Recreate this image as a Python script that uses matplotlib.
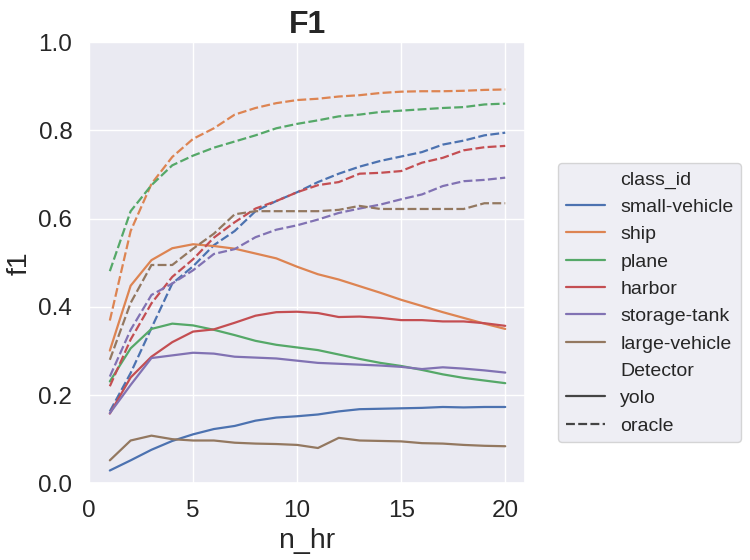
import matplotlib
matplotlib.use("Agg")
import matplotlib.pyplot as plt
from matplotlib.lines import Line2D
import seaborn as sns

sns.set_theme(style="darkgrid")
plt.rcParams['font.family'] = ['Liberation Sans', 'DejaVu Sans']

n_hr = list(range(1, 21))
classes = ["small-vehicle", "ship", "plane", "harbor", "storage-tank", "large-vehicle"]
detectors = ["yolo", "oracle"]

yolo_small_vehicle = [0.029, 0.052, 0.076, 0.096, 0.111, 0.123, 0.130, 0.142, 0.149, 0.152,
                      0.156, 0.163, 0.168, 0.169, 0.170, 0.171, 0.173, 0.172, 0.173, 0.173]
yolo_ship = [0.301, 0.448, 0.506, 0.533, 0.542, 0.538, 0.532, 0.521, 0.510, 0.491,
             0.474, 0.462, 0.447, 0.432, 0.416, 0.402, 0.388, 0.375, 0.362, 0.350]
yolo_plane = [0.231, 0.306, 0.350, 0.362, 0.358, 0.348, 0.336, 0.323, 0.314, 0.308,
              0.302, 0.292, 0.282, 0.273, 0.266, 0.257, 0.247, 0.239, 0.233, 0.227]
yolo_harbor = [0.158, 0.240, 0.287, 0.320, 0.344, 0.349, 0.364, 0.380, 0.388, 0.389,
               0.386, 0.377, 0.378, 0.375, 0.370, 0.370, 0.367, 0.367, 0.363, 0.357]
yolo_storage_tank = [0.159, 0.223, 0.284, 0.290, 0.296, 0.294, 0.287, 0.285, 0.283, 0.278,
                     0.273, 0.271, 0.269, 0.267, 0.264, 0.259, 0.263, 0.260, 0.256, 0.251]
yolo_large_vehicle = [0.052, 0.097, 0.108, 0.100, 0.097, 0.097, 0.092, 0.090, 0.089, 0.087,
                      0.080, 0.103, 0.097, 0.096, 0.095, 0.091, 0.090, 0.087, 0.085, 0.084]

oracle_small_vehicle = [0.163, 0.250, 0.352, 0.453, 0.492, 0.540, 0.572, 0.617, 0.640, 0.660,
                        0.683, 0.702, 0.718, 0.731, 0.741, 0.751, 0.768, 0.777, 0.789, 0.795]
oracle_ship = [0.369, 0.572, 0.679, 0.740, 0.781, 0.805, 0.836, 0.851, 0.862, 0.869,
               0.872, 0.877, 0.880, 0.885, 0.888, 0.889, 0.889, 0.890, 0.892, 0.893]
oracle_plane = [0.481, 0.617, 0.676, 0.721, 0.743, 0.761, 0.775, 0.789, 0.805, 0.815,
                0.823, 0.832, 0.836, 0.842, 0.845, 0.848, 0.851, 0.853, 0.859, 0.861]
oracle_harbor = [0.220, 0.326, 0.408, 0.468, 0.508, 0.557, 0.592, 0.623, 0.640, 0.660,
                 0.676, 0.683, 0.702, 0.704, 0.708, 0.727, 0.738, 0.755, 0.762, 0.765]
oracle_storage_tank = [0.242, 0.348, 0.427, 0.453, 0.483, 0.520, 0.531, 0.558, 0.575, 0.585,
                       0.598, 0.613, 0.623, 0.632, 0.644, 0.655, 0.674, 0.685, 0.688, 0.693]
oracle_large_vehicle = [0.280, 0.409, 0.495, 0.495, 0.532, 0.566, 0.610, 0.617, 0.617, 0.617,
                        0.617, 0.620, 0.629, 0.622, 0.622, 0.622, 0.622, 0.622, 0.635, 0.635]

data = {
    "yolo": [yolo_small_vehicle, yolo_ship, yolo_plane, yolo_harbor,
             yolo_storage_tank, yolo_large_vehicle],
    "oracle": [oracle_small_vehicle, oracle_ship, oracle_plane, oracle_harbor,
               oracle_storage_tank, oracle_large_vehicle],
}

palette = sns.color_palette("deep", 6)
styles = {"yolo": dict(linestyle="-"), "oracle": dict(linestyle=(0, (4, 1.5)))}

fig = plt.figure(figsize=(7.5, 5.6), dpi=100)
ax = fig.add_axes([0.1187, 0.137, 0.5813, 0.7875])

for i, cls in enumerate(classes):
    for det in detectors:
        ax.plot(n_hr, data[det][i], color=palette[i], linewidth=1.6, **styles[det])

ax.set_xlim(0, 20.95)
ax.set_ylim(0, 1.0)
ax.set_xticks([0, 5, 10, 15, 20])
ax.set_yticks([0.0, 0.2, 0.4, 0.6, 0.8, 1.0])
ax.set_yticklabels(["0.0", "0.2", "0.4", "0.6", "0.8", "1.0"])
ax.tick_params(labelsize=17.5, colors="#262626", pad=6)
ax.set_xlabel("n_hr", fontsize=20.5, color="#262626")
ax.set_ylabel("f1", fontsize=20.5, color="#262626")
ax.set_title("F1", fontsize=23, fontweight="bold", color="#262626", pad=7)

handles, labels = [], []
handles.append(Line2D([], [], linestyle="none")); labels.append("class_id")
for i, cls in enumerate(classes):
    handles.append(Line2D([], [], color=palette[i], linewidth=1.6)); labels.append(cls)
handles.append(Line2D([], [], linestyle="none")); labels.append("Detector")
handles.append(Line2D([], [], color="#444444", linewidth=1.6, linestyle="-")); labels.append("yolo")
handles.append(Line2D([], [], color="#444444", linewidth=1.6, linestyle=(0, (4, 1.5)))); labels.append("oracle")

leg = fig.legend(handles, labels, loc="upper left", bbox_to_anchor=(0.744, 0.709),
                 borderaxespad=0, fontsize=14, frameon=True, handlelength=2.0)
for t in leg.get_texts():
    t.set_color("#262626")

fig.savefig("out.png", dpi=100)
